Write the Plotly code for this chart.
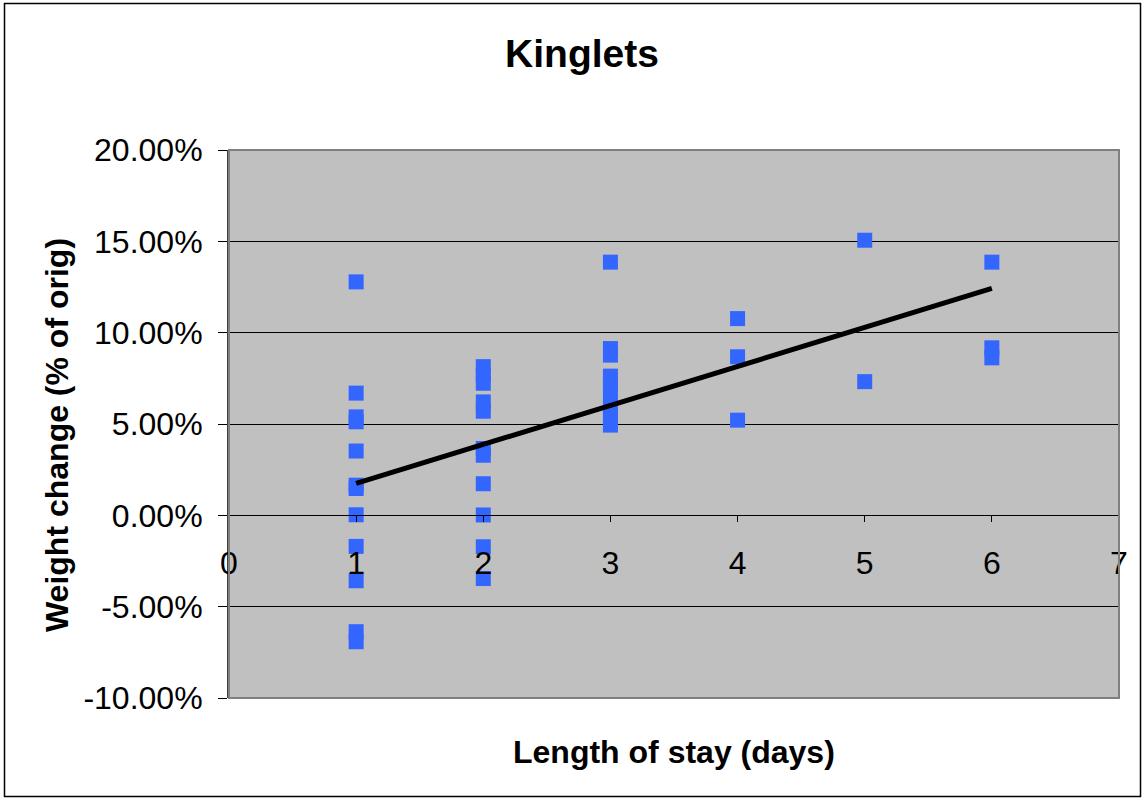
import plotly.graph_objects as go

# Length of stay (days) and weight change (fraction of original weight)
stay_days = [1]*12 + [2]*11 + [3]*9 + [4]*3 + [5]*2 + [6]*3
weight_change = [
    0.1278, 0.0669, 0.0539, 0.0512, 0.0352, 0.0165, 0.0147, 0.0003, -0.0170, -0.0358, -0.0637, -0.0692,
    0.0814, 0.0770, 0.0723, 0.0621, 0.0570, 0.0366, 0.0329, 0.0173, 0.0002, -0.0172, -0.0346,
    0.1386, 0.0913, 0.0877, 0.0762, 0.0717, 0.0667, 0.0585, 0.0539, 0.0494,
    0.1077, 0.0868, 0.0521,
    0.1506, 0.0732,
    0.1386, 0.0917, 0.0862,
]
# Linear trendline endpoints as drawn
trend_x = [1, 6]
trend_y = [0.0175, 0.1242]

x_ticks = [0, 1, 2, 3, 4, 5, 6, 7]
y_ticks = [-0.10, -0.05, 0.0, 0.05, 0.10, 0.15, 0.20]
y_tick_labels = ["-10.00%", "-5.00%", "0.00%", "5.00%", "10.00%", "15.00%", "20.00%"]

FONT = "Liberation Sans, Arial, sans-serif"

fig = go.Figure()
fig.add_trace(go.Scatter(
    x=stay_days, y=weight_change, mode="markers",
    marker=dict(symbol="square", size=15, color="#3366FF", line=dict(width=0)),
    showlegend=False, hoverinfo="x+y",
))
fig.add_trace(go.Scatter(
    x=trend_x, y=trend_y, mode="lines",
    line=dict(color="black", width=5),
    showlegend=False, hoverinfo="skip",
))

L, R, T, B = 229, 25, 150, 101
W, H = 1144, 799
pw, ph = W - L - R, H - T - B
zero_pos = (0 - y_ticks[0]) / (y_ticks[-1] - y_ticks[0])

fig.update_layout(
    width=W, height=H,
    margin=dict(l=L, r=R, t=T, b=B, autoexpand=False),
    paper_bgcolor="white", plot_bgcolor="#C0C0C0",
    font=dict(family=FONT, size=32, color="black"),
    title=dict(text="<b>Kinglets</b>", font=dict(family=FONT, size=39, color="black"),
               xref="container", yref="container", x=582 / W, y=1 - 53 / H,
               xanchor="center", yanchor="middle"),
    xaxis=dict(range=[x_ticks[0], x_ticks[-1]], tickvals=x_ticks, ticktext=[str(v) for v in x_ticks],
               showgrid=False, zeroline=False, showline=True, linecolor="black", linewidth=1,
               ticks="outside", ticklen=6, tickcolor="black", tickwidth=1,
               anchor="free", position=zero_pos, ticklabelstandoff=13,
               tickfont=dict(family=FONT, size=32, color="black")),
    yaxis=dict(range=[y_ticks[0], y_ticks[-1]], tickvals=y_ticks, ticktext=y_tick_labels,
               showgrid=True, gridcolor="black", gridwidth=1, zeroline=False,
               showline=True, linecolor="#404040", linewidth=2,
               ticks="outside", ticklen=9, tickcolor="black", tickwidth=1,
               ticklabelstandoff=9,
               tickfont=dict(family=FONT, size=32, color="black")),
    shapes=[
        dict(type="rect", xref="paper", yref="paper", x0=0, x1=1, y0=0, y1=1,
             line=dict(color="#808080", width=2), fillcolor="rgba(0,0,0,0)", layer="above"),
        dict(type="rect", xref="paper", yref="paper",
             x0=(4.5 - L) / pw, x1=(W - 3.5 - L) / pw,
             y0=-(H - 2.5 - (T + ph)) / ph, y1=(T + ph - 3.5) / ph,
             line=dict(color="black", width=1.5), fillcolor="rgba(0,0,0,0)", layer="below"),
    ],
    annotations=[
        dict(text="<b>Length of stay (days)</b>", xref="paper", yref="paper",
             x=0.5, y=-(752 - (T + ph)) / ph, xanchor="center", yanchor="middle",
             showarrow=False, font=dict(family=FONT, size=32, color="black")),
        dict(text="<b>Weight change (% of orig)</b>", xref="paper", yref="paper",
             x=(57 - L) / pw, y=(T + ph - 435) / ph, xanchor="center", yanchor="middle",
             textangle=-90, showarrow=False, font=dict(family=FONT, size=32, color="black")),
    ],
)

fig.write_html("out.html", config={"displayModeBar": False},
               post_script="document.body.style.margin='0';")
